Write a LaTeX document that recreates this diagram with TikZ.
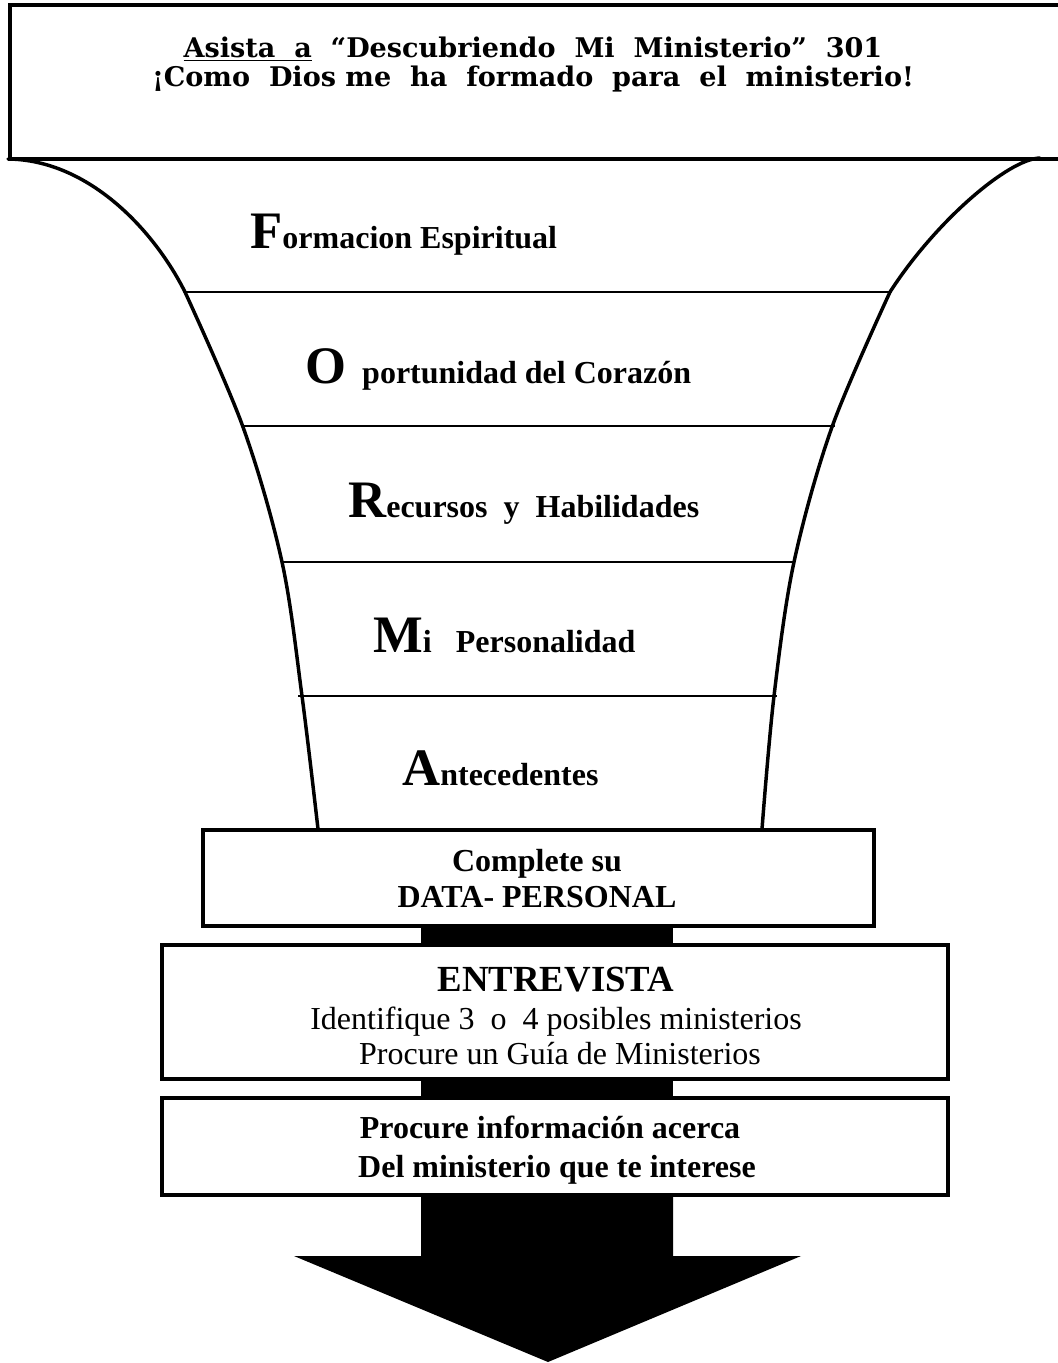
\documentclass[tikz,border=0pt]{standalone}
\usepackage{fontspec}
\setmainfont{Liberation Serif}
\newfontfamily\slabfont{DejaVu Serif}
\newcommand{\bigini}[1]{{\bfseries\fontsize{39.5}{40}\selectfont #1}}
\usetikzlibrary{calc}
\begin{document}
\begin{tikzpicture}[x=0.75pt,y=-0.75pt,
  funnel/.style={line width=2.6pt, line join=round, line cap=round},
  divider/.style={line width=2pt},
  boxstyle/.style={draw, line width=#1, outer sep=0pt, inner sep=0pt, fill=white},
  lbl/.style={anchor=base west, inner sep=0pt, font=\bfseries\fontsize{24}{24}\selectfont},
  txt/.style={anchor=base, inner sep=0pt}]
\useasboundingbox (0,0) rectangle (1057,1363);

% top box
\node[boxstyle=3pt, minimum width=795pt, minimum height=115.5pt] (topbox) at (540,82) {};
\node[txt, font=\slabfont\bfseries\fontsize{20.3}{21}\selectfont] (t1) at (533,58)
  {\underline{Asista\ \ a}\ \ “Descubriendo\ \ Mi\ \ Ministerio”\ \ 301};
\node[txt, font=\slabfont\bfseries\fontsize{20.3}{21}\selectfont] (t2) at (533,87)
  {¡Como\ \ Dios me\ \ ha\ \ formado\ \ para\ \ el\ \ ministerio!};

% funnel sides
\draw[funnel] (8,159) .. controls (90,160) and (155,232) .. (185,292);
\draw[funnel] plot[smooth, tension=0.55] coordinates {(185,292) (243,427) (282,562) (302,696) (318,829)};
\draw[funnel] (1040,158) .. controls (1008,159) and (935,222) .. (890,292);
\draw[funnel] plot[smooth, tension=0.55] coordinates {(890,292) (832,427) (794,562) (774,696) (762,829)};

% dividers
\draw[divider] (185,292) -- (890,292);
\draw[divider] (241,426) -- (835,426);
\draw[divider] (282,562) -- (794,562);
\draw[divider] (298,696) -- (777,696);

% funnel labels
\node[lbl] (f1) at (250,248) {\bigini{F}ormacion Espiritual};
\node[lbl] (f2) at (305,383) {\bigini{O}\ \ portunidad del Corazón};
\node[lbl] (f3) at (348,517) {\bigini{R}ecursos\ \ y\ \ Habilidades};
\node[lbl] (f4) at (373,652) {\bigini{M}i\ \ \ Personalidad};
\node[lbl] (f5) at (402,785) {\bigini{A}ntecedentes};

% boxes
\node[boxstyle=2.6pt, minimum width=503.25pt, minimum height=72pt] (data) at (538.5,878) {};
\node[txt, font=\bfseries\fontsize{24}{24}\selectfont] (d1) at (537,871) {Complete su};
\node[txt, font=\bfseries\fontsize{24}{24}\selectfont] (d2) at (537,907) {DATA- PERSONAL};

\node[boxstyle=2.3pt, minimum width=589.5pt, minimum height=100.5pt] (ent) at (555,1012) {};
\node[txt, font=\bfseries\fontsize{27.6}{28}\selectfont] (e1) at (556,991) {ENTREVISTA};
\node[txt, font=\fontsize{24}{24}\selectfont] (e2) at (556,1029) {Identifique 3\ \ o\ \ 4 posibles ministerios};
\node[txt, font=\fontsize{24}{24}\selectfont] (e3) at (560,1064) {Procure un Guía de Ministerios};

\node[boxstyle=2.3pt, minimum width=589.5pt, minimum height=72.75pt] (proc) at (555,1146.5) {};
\node[txt, font=\bfseries\fontsize{24}{24}\selectfont] (p1) at (550,1138) {Procure información acerca};
\node[txt, font=\bfseries\fontsize{24}{24}\selectfont] (p2) at (557,1177) {Del ministerio que te interese};

% connectors
\coordinate (bl) at (421,0);
\coordinate (br) at (673,0);
\coordinate (hl) at (294,1256);
\coordinate (hr) at (801,1256);
\coordinate (tip) at (548,1362);
\fill (bl |- data.south) rectangle (br |- ent.north);
\fill (bl |- ent.south) rectangle (br |- proc.north);
\fill (bl |- proc.south) -- (br |- proc.south) -- (br |- hr) -- (hr) -- (tip) -- (hl) -- (bl |- hl) -- cycle;
\end{tikzpicture}
\end{document}
